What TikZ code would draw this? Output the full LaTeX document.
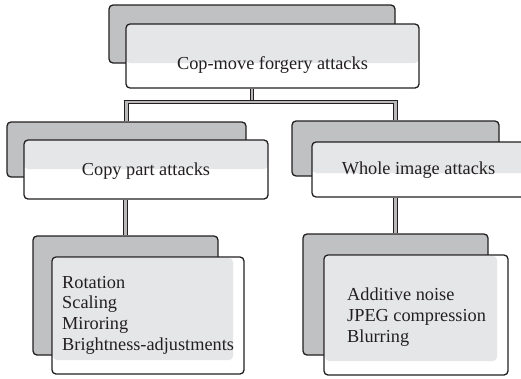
\documentclass[tikz,border=0pt]{standalone}
\usepackage{fontspec}
\setmainfont{Liberation Serif}
\usetikzlibrary{calc}
\definecolor{ink}{HTML}{231F20}
\definecolor{backgrey}{HTML}{C0C1C3}
\definecolor{lightgrey}{HTML}{E5E6E8}
\tikzset{
  backbox/.style={draw=ink, line width=1.3pt, fill=backgrey, rounded corners=4pt, inner sep=0pt},
  frontbox/.style={draw=ink, line width=1.3pt, fill=white, rounded corners=4pt, inner sep=0pt,
    path picture={\fill[lightgrey] (path picture bounding box.north west) rectangle ([yshift=-#1pt]path picture bounding box.north east);}},
  listbox/.style={draw=ink, line width=1.3pt, fill=white, rounded corners=4pt, inner sep=0pt,
    path picture={\fill[lightgrey, rounded corners=4pt] ([xshift=1pt,yshift=-1pt]path picture bounding box.north west) rectangle ([xshift=-11pt,yshift=14pt]path picture bounding box.south east);}},
  link/.style={draw=ink, line width=1.1pt, double=gray!55, double distance=2.6pt},
  label/.style={font=\fontsize{18.3}{20.6}\selectfont, text=ink, inner sep=0pt},
}
\begin{document}
\begin{tikzpicture}[x=1pt,y=-1pt]
\useasboundingbox (0,0) rectangle (521,378);
% top
\node[backbox, minimum width=286pt, minimum height=58pt] (topB) at (252,34) {};
\node[frontbox=39, minimum width=293pt, minimum height=64pt] (topF) at (272.5,56) {};
\node[label, anchor=base] (topT) at (272.5,69) {Cop-move forgery attacks};
% left child
\node[backbox, minimum width=239pt, minimum height=55pt] (leftB) at (126.5,149.5) {};
% right child
\node[backbox, minimum width=207pt, minimum height=55pt] (rightB) at (395.5,148.5) {};
% connectors top
\coordinate (j0) at (252,102);
\draw[link] (topF.south -| j0) -- (j0);
\draw[link] (leftB.north) -- (leftB.north |- j0) -- (rightB.north |- j0) -- (rightB.north);
\node[frontbox=29, minimum width=244pt, minimum height=59pt] (leftF) at (146,169.5) {};
\node[label, anchor=base] (leftT) at (146,175) {Copy part attacks};
\node[frontbox=31, minimum width=213pt, minimum height=55pt] (rightF) at (418.5,169.5) {};
\node[label, anchor=base] (rightT) at (418.5,174) {Whole image attacks};
% bottom boxes
\node[backbox, minimum width=185pt, minimum height=119pt] (blB) at (125.5,295.5) {};
\node[backbox, minimum width=185pt, minimum height=121pt] (brB) at (395.5,294.5) {};
\draw[link] (leftF.south -| blB.north) -- (blB.north);
\draw[link] (rightF.south -| brB.north) -- (brB.north);
\node[listbox, minimum width=192pt, minimum height=117pt] (blF) at (148,315.5) {};
\node[listbox, minimum width=184pt, minimum height=120pt] (brF) at (416,315) {};
\node[label, anchor=base west, align=left] (blT) at (62,350) {Rotation\\Scaling\\Miroring\\Brightness-adjustments};
\node[label, anchor=base west, align=left] (brT) at (347,342) {Additive noise\\JPEG compression\\Blurring};
\end{tikzpicture}
\end{document}
